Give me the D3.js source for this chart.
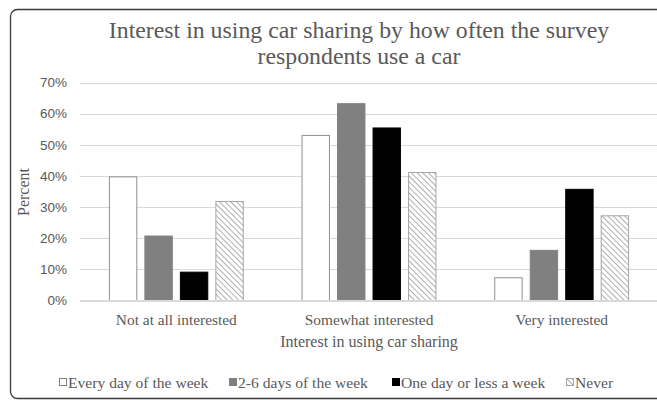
<!DOCTYPE html>
<html>
<head>
<meta charset="utf-8">
<script src="https://cdn.jsdelivr.net/npm/d3@7"></script>
<style>
  html, body { margin: 0; padding: 0; background: #fff; overflow: hidden; }
  svg { display: block; }
</style>
</head>
<body>
<svg id="chart" width="657" height="400"></svg>
<script>
// Interest categories along the x axis
const categories = ["Not at all interested", "Somewhat interested", "Very interested"];
// Frequency of car use (one bar per group in each category)
const seriesNames = ["Every day of the week", "2-6 days of the week", "One day or less a week", "Never"];
// Percent of respondents for each series, in category order
const everyDay = [39.7, 53.0, 7.3];
const twoToSix = [20.7, 63.2, 16.1];
const oneOrLess = [9.1, 55.4, 35.7];
const never = [31.8, 41.1, 27.2];
const yTicks = [0, 10, 20, 30, 40, 50, 60, 70];

const seriesValues = [everyDay, twoToSix, oneOrLess, never];

const svg = d3.select("#chart");
const serif = "'Liberation Serif', 'DejaVu Serif', serif";
const sans = "'Liberation Sans', Arial, sans-serif";
const textGray = "#595959";

// Hatch pattern for the "Never" series (downward diagonals)
const defs = svg.append("defs");
const pat = defs.append("pattern")
  .attr("id", "hatch")
  .attr("patternUnits", "userSpaceOnUse")
  .attr("width", 4).attr("height", 4)
  .attr("patternTransform", "rotate(45)");
pat.append("rect").attr("width", 4).attr("height", 4).attr("fill", "#fff");
pat.append("line").attr("x1", 0).attr("y1", 0).attr("x2", 4).attr("y2", 0)
  .attr("stroke", "#8c8c8c").attr("stroke-width", 1.4);

const fills = ["#ffffff", "#808080", "#000000", "url(#hatch)"];
const strokes = ["#8f8f8f", "#808080", "#000000", "#a6a6a6"];

// Chart frame
svg.append("rect")
  .attr("x", 10.5).attr("y", 9.5)
  .attr("width", 760).attr("height", 389)
  .attr("rx", 7)
  .attr("fill", "#fff")
  .attr("stroke", "#3a3a3a").attr("stroke-width", 1.3);

const plot = { left: 80, right: 658, top: 82.5, bottom: 300.5 };

const x0 = d3.scaleBand().domain(categories)
  .range([plot.left, plot.right]).paddingInner(0.3).paddingOuter(0.15);
const x1 = d3.scaleBand().domain(seriesNames)
  .range([0, x0.bandwidth()]).paddingInner(0.2);
const y = d3.scaleLinear().domain([0, 70]).range([plot.bottom, plot.top]);

// Gridlines
svg.append("g")
  .selectAll("line").data(yTicks).join("line")
  .attr("x1", plot.left).attr("x2", plot.right)
  .attr("y1", d => Math.round(y(d)) + 0.5).attr("y2", d => Math.round(y(d)) + 0.5)
  .attr("stroke", "#d9d9d9").attr("stroke-width", 1);

// Y axis labels
const yAxis = d3.axisLeft(y).tickValues(yTicks).tickFormat(d => d + "%").tickSize(0).tickPadding(0);
const yg = svg.append("g").attr("transform", `translate(${plot.left - 13},0)`).call(yAxis);
yg.select(".domain").remove();
yg.selectAll("text").attr("font-family", sans).attr("font-size", 13.5).attr("fill", textGray);

// Bars
const groups = svg.append("g").selectAll("g").data(categories).join("g")
  .attr("transform", d => `translate(${x0(d)},0)`);
groups.selectAll("rect")
  .data((c, ci) => seriesNames.map((s, si) => ({ s, si, v: seriesValues[si][ci] })))
  .join("rect")
  .attr("x", d => x1(d.s) + 0.5)
  .attr("y", d => y(d.v))
  .attr("width", x1.bandwidth() - 1)
  .attr("height", d => y(0) - y(d.v))
  .attr("fill", d => fills[d.si])
  .attr("stroke", d => strokes[d.si])
  .attr("stroke-width", 1);

// X axis line
svg.append("line")
  .attr("x1", plot.left).attr("x2", plot.right)
  .attr("y1", plot.bottom).attr("y2", plot.bottom)
  .attr("stroke", "#d9d9d9");

// Category labels
const xAxis = d3.axisBottom(x0).tickSize(0).tickPadding(0);
const xg = svg.append("g").attr("transform", `translate(0,${plot.bottom + 24})`).call(xAxis);
xg.select(".domain").remove();
xg.selectAll("text").attr("dy", 0).attr("font-family", serif).attr("font-size", 15.4).attr("fill", textGray);

// Title
const title = svg.append("text")
  .attr("text-anchor", "middle")
  .attr("font-family", serif).attr("font-size", 23.8).attr("fill", textGray);
title.append("tspan").attr("x", 359).attr("y", 38).text("Interest in using car sharing by how often the survey");
title.append("tspan").attr("x", 359).attr("y", 64).text("respondents use a car");

// Axis titles
svg.append("text")
  .attr("x", 369).attr("y", 347)
  .attr("text-anchor", "middle")
  .attr("font-family", serif).attr("font-size", 16).attr("fill", textGray)
  .text("Interest in using car sharing");

svg.append("text")
  .attr("transform", "translate(29,192) rotate(-90)")
  .attr("text-anchor", "middle")
  .attr("font-family", serif).attr("font-size", 16).attr("fill", textGray)
  .text("Percent");

// Legend
const legendX = [59, 229, 392, 566];
const legend = svg.append("g").selectAll("g").data(seriesNames).join("g")
  .attr("transform", (d, i) => `translate(${legendX[i]},383)`);
legend.append("rect")
  .attr("x", 0.5).attr("y", -4.5).attr("width", 7).attr("height", 7)
  .attr("fill", (d, i) => fills[i])
  .attr("stroke", (d, i) => i === 0 ? "#7f7f7f" : strokes[i]);
legend.append("text")
  .attr("x", 9).attr("y", 4.5)
  .attr("font-family", serif).attr("font-size", 15.6).attr("fill", textGray)
  .text(d => d);
</script>
</body>
</html>
